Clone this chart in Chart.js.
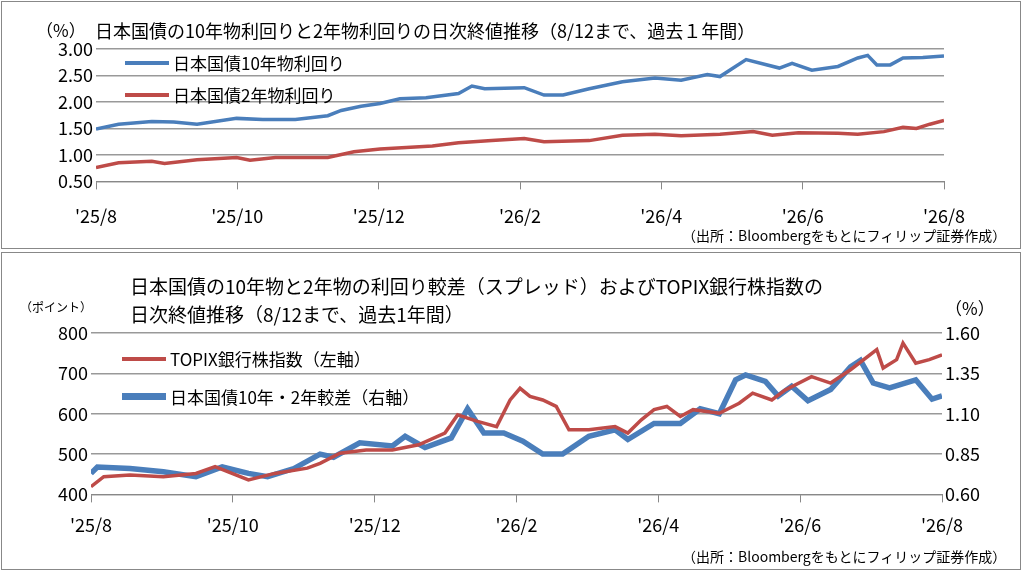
<!DOCTYPE html>
<html><head><meta charset="utf-8">
<script src="https://cdn.jsdelivr.net/npm/chart.js@4"></script>
<style>
body{margin:0;background:#fff;font-family:"Noto Sans CJK JP",sans-serif;}
.box{position:absolute;left:1px;width:1020px;border:1px solid #888;box-sizing:border-box;}
.box canvas{display:block;}
.t{position:absolute;white-space:nowrap;color:#000;}
.lg{position:absolute;display:flex;align-items:center;font-size:17px;}
.lg span{display:inline-block;width:44px;margin-right:4px;}
</style></head><body>
<div class="box" style="top:1px;height:248px;"><canvas id="c1" width="1018" height="246"></canvas></div>
<div class="box" style="top:252px;height:318px;"><canvas id="c2" width="1018" height="316"></canvas></div>
<div class="t" style="left:36px;top:17px;font-size:17px">（%）</div>
<div class="t" style="left:95px;top:17px;font-size:18px">日本国債の10年物利回りと2年物利回りの日次終値推移（8/12まで、過去１年間）</div>
<div class="lg" style="left:125px;top:50px"><span style="border-top:4px solid #4a7ebb"></span>日本国債10年物利回り</div>
<div class="lg" style="left:125px;top:82px"><span style="border-top:4px solid #be4b48"></span>日本国債2年物利回り</div>
<div class="t" style="left:682px;top:225px;font-size:14px">（出所：Bloombergをもとにフィリップ証券作成）</div>
<div class="t" style="left:130px;top:272px;font-size:19px;line-height:28px">日本国債の10年物と2年物の利回り較差（スプレッド）およびTOPIX銀行株指数の<br>日次終値推移（8/12まで、過去1年間）</div>
<div class="t" style="left:20px;top:298px;font-size:12px">（ポイント）</div>
<div class="t" style="left:945px;top:295px;font-size:17px">（%）</div>
<div class="lg" style="left:122px;top:346px"><span style="border-top:4px solid #be4b48"></span>TOPIX銀行株指数（左軸）</div>
<div class="lg" style="left:122px;top:384px"><span style="border-top:7px solid #4a7ebb"></span>日本国債10年・2年較差（右軸）</div>
<div class="t" style="left:682px;top:546px;font-size:14px">（出所：Bloombergをもとにフィリップ証券作成）</div>
<script>
const monthLabels = {0:"'25/8",2:"'25/10",4:"'25/12",6:"'26/2",8:"'26/4",10:"'26/6",12:"'26/8"};

// 月単位のx位置（0='25/8 … 12='26/8）
const jgb10 = [[0,1.49],[0.32,1.58],[0.79,1.63],[1.1,1.62],[1.43,1.58],[1.99,1.69],[2.36,1.67],[2.82,1.67],[3.28,1.74],[3.47,1.84],[3.75,1.92],[4.02,1.97],[4.3,2.06],[4.67,2.08],[5.13,2.16],[5.32,2.30],[5.5,2.25],[6.06,2.27],[6.34,2.13],[6.61,2.13],[6.98,2.25],[7.45,2.38],[7.91,2.45],[8.28,2.41],[8.65,2.52],[8.83,2.48],[9.2,2.80],[9.67,2.64],[9.85,2.73],[10.13,2.60],[10.5,2.67],[10.78,2.83],[10.92,2.88],[11.05,2.70],[11.24,2.70],[11.42,2.83],[11.7,2.84],[12,2.87]];
const jgb2 = [[0,0.76],[0.32,0.85],[0.79,0.88],[0.97,0.84],[1.43,0.91],[1.99,0.95],[2.18,0.90],[2.54,0.95],[3.28,0.95],[3.65,1.06],[4.02,1.11],[4.39,1.14],[4.76,1.17],[5.13,1.23],[5.6,1.27],[6.06,1.31],[6.34,1.25],[6.98,1.27],[7.45,1.37],[7.91,1.39],[8.28,1.36],[8.83,1.39],[9.3,1.44],[9.57,1.37],[9.94,1.42],[10.5,1.41],[10.78,1.39],[11.15,1.44],[11.42,1.52],[11.61,1.50],[11.8,1.58],[12,1.65]];
const topix = [[0,419],[0.18,444],[0.55,448],[1.02,444],[1.48,452],[1.75,469],[2.22,436],[2.59,452],[3.05,465],[3.23,477],[3.51,502],[3.88,510],[4.25,510],[4.62,523],[4.99,552],[5.17,597],[5.45,581],[5.72,568],[5.91,634],[6.05,663],[6.19,643],[6.37,634],[6.56,618],[6.74,560],[7.02,560],[7.39,568],[7.57,552],[7.76,585],[7.94,610],[8.12,618],[8.31,593],[8.49,610],[8.86,601],[9.14,626],[9.33,651],[9.6,634],[9.79,659],[10.16,692],[10.43,676],[10.71,709],[11.08,759],[11.17,713],[11.36,734],[11.45,775],[11.63,725],[11.82,734],[12,746]];
const spread = [[0,0.73],[0.09,0.77],[0.55,0.76],[1.02,0.74],[1.48,0.71],[1.85,0.77],[2.22,0.73],[2.49,0.71],[2.86,0.76],[3.23,0.85],[3.42,0.83],[3.79,0.92],[4.25,0.90],[4.43,0.96],[4.71,0.89],[5.08,0.95],[5.31,1.13],[5.54,0.98],[5.82,0.98],[6.09,0.93],[6.37,0.85],[6.65,0.85],[7.02,0.96],[7.39,1.00],[7.57,0.94],[7.94,1.04],[8.31,1.04],[8.59,1.13],[8.86,1.10],[9.09,1.31],[9.23,1.34],[9.51,1.30],[9.69,1.21],[9.88,1.27],[10.11,1.18],[10.43,1.25],[10.71,1.39],[10.85,1.43],[11.03,1.29],[11.26,1.26],[11.63,1.31],[11.86,1.19],[12,1.21]];

const pts = a => a.map(p => ({x: p[0], y: p[1]}));
const tickFont = {family: "Noto Sans CJK JP", size: 18};

function xAxis(pad) {
  return {
    type: "linear", min: 0, max: 12,
    ticks: {stepSize: 2, color: "#000", font: tickFont, padding: pad, callback: v => monthLabels[v]},
    grid: {drawOnChartArea: false, color: "#888", tickLength: 8},
    border: {color: "#888"}
  };
}
function yAxis(pos, min, max, step, width, grid) {
  return {
    position: pos, min: min, max: max,
    ticks: {stepSize: step, autoSkip: false, color: "#000", font: tickFont, callback: v => step < 1 ? v.toFixed(2) : v},
    grid: {display: grid, color: "#999", drawTicks: false, lineWidth: 1.5},
    border: {display: false},
    afterFit: s => { s.width = width; }
  };
}

new Chart(document.getElementById("c1"), {
  type: "line",
  data: {datasets: [
    {data: pts(jgb10), borderColor: "#4a7ebb", borderWidth: 3.5, pointRadius: 0, tension: 0},
    {data: pts(jgb2), borderColor: "#be4b48", borderWidth: 3.5, pointRadius: 0, tension: 0}
  ]},
  options: {
    responsive: false, animation: false,
    layout: {padding: {top: 47, right: 76, bottom: 5, left: 0}},
    plugins: {legend: {display: false}, tooltip: {enabled: false}},
    scales: {x: xAxis(16), y: yAxis("left", 0.5, 3, 0.5, 94, true)}
  }
});

new Chart(document.getElementById("c2"), {
  type: "line",
  data: {datasets: [
    {data: pts(topix), borderColor: "#be4b48", borderWidth: 3.5, pointRadius: 0, yAxisID: "y"},
    {data: pts(spread), borderColor: "#4a7ebb", borderWidth: 5.5, pointRadius: 0, yAxisID: "y1"}
  ]},
  options: {
    responsive: false, animation: false,
    layout: {padding: {top: 80, right: 2, bottom: 21, left: 0}},
    plugins: {legend: {display: false}, tooltip: {enabled: false}},
    scales: {
      x: xAxis(12),
      y: yAxis("left", 400, 800, 100, 89, true),
      y1: yAxis("right", 0.6, 1.6, 0.25, 76, false)
    }
  }
});
</script>
</body></html>
